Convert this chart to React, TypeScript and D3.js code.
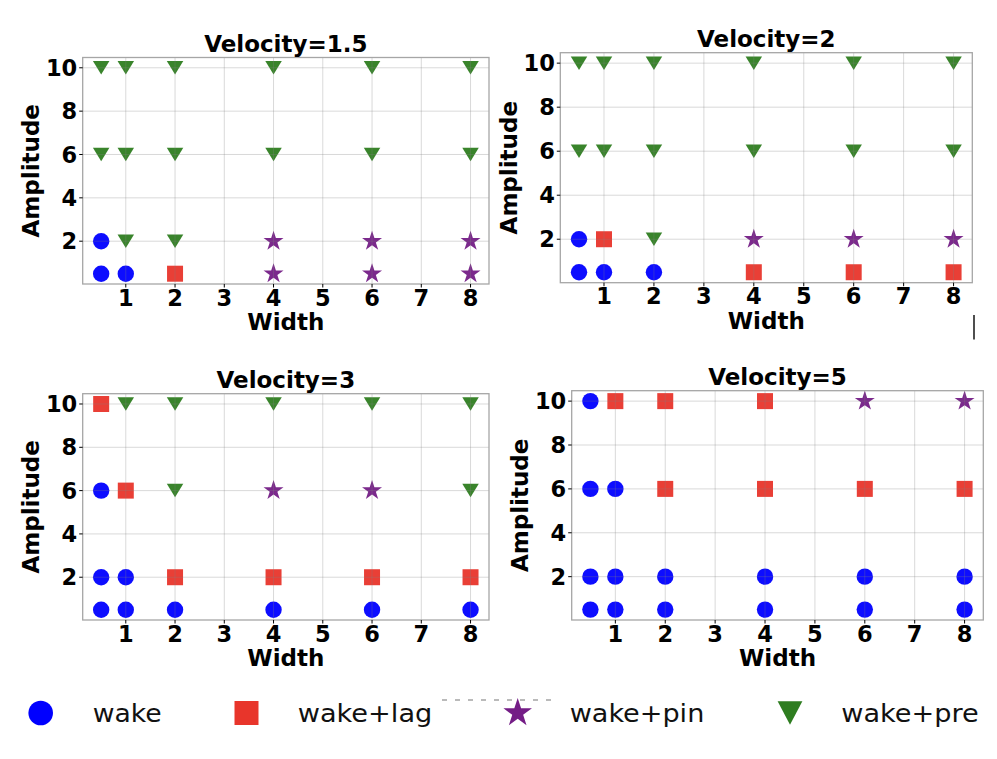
import * as d3 from "d3";

// tick labels
const widthTicks = [1, 2, 3, 4, 5, 6, 7, 8];
const ampTicks = [2, 4, 6, 8, 10];

const categories = ["wake", "wake+lag", "wake+pin", "wake+pre"];
const colors = ["#0000ff", "#e8352b", "#741d86", "#2e7d20"];
const titles = ["Velocity=1.5", "Velocity=2", "Velocity=3", "Velocity=5"];

// points are [width, amplitude]
const v15Wake = [[0.5, 2], [0.5, 0.5], [1, 0.5]];
const v15Lag = [[2, 0.5]];
const v15Pin = [[4, 2], [6, 2], [8, 2], [4, 0.5], [6, 0.5], [8, 0.5]];
const v15Pre = [
  [0.5, 10], [1, 10], [2, 10], [4, 10], [6, 10], [8, 10],
  [0.5, 6], [1, 6], [2, 6], [4, 6], [6, 6], [8, 6],
  [1, 2], [2, 2],
];

const v2Wake = [[0.5, 2], [0.5, 0.5], [1, 0.5], [2, 0.5]];
const v2Lag = [[1, 2], [4, 0.5], [6, 0.5], [8, 0.5]];
const v2Pin = [[4, 2], [6, 2], [8, 2]];
const v2Pre = [
  [0.5, 10], [1, 10], [2, 10], [4, 10], [6, 10], [8, 10],
  [0.5, 6], [1, 6], [2, 6], [4, 6], [6, 6], [8, 6],
  [2, 2],
];

const v3Wake = [
  [0.5, 6], [0.5, 2], [1, 2],
  [0.5, 0.5], [1, 0.5], [2, 0.5], [4, 0.5], [6, 0.5], [8, 0.5],
];
const v3Lag = [[0.5, 10], [1, 6], [2, 2], [4, 2], [6, 2], [8, 2]];
const v3Pin = [[4, 6], [6, 6]];
const v3Pre = [[1, 10], [2, 10], [4, 10], [6, 10], [8, 10], [2, 6], [8, 6]];

const v5Wake = [
  [0.5, 10], [0.5, 6], [1, 6],
  [0.5, 2], [1, 2], [2, 2], [4, 2], [6, 2], [8, 2],
  [0.5, 0.5], [1, 0.5], [2, 0.5], [4, 0.5], [6, 0.5], [8, 0.5],
];
const v5Lag = [[1, 10], [2, 10], [4, 10], [2, 6], [4, 6], [6, 6], [8, 6]];
const v5Pin = [[6, 10], [8, 10]];
const v5Pre: number[][] = [];

const panelSeries = [
  [v15Wake, v15Lag, v15Pin, v15Pre],
  [v2Wake, v2Lag, v2Pin, v2Pre],
  [v3Wake, v3Lag, v3Pin, v3Pre],
  [v5Wake, v5Lag, v5Pin, v5Pre],
];

// axes boxes [left, top, right, bottom]
const boxes = [
  [82.7, 57.5, 489, 284],
  [560.3, 52.7, 972.3, 282.7],
  [82.7, 393.7, 489, 620],
  [571.7, 390.7, 983.3, 620],
];

const boldFont = "'DejaVu Sans', sans-serif";

// downward triangle with a given height/width ratio
const triangleDown = (ratio: number) => ({
  draw(ctx: any, size: number) {
    const a = Math.sqrt(size) / 2;
    const b = a * ratio;
    ctx.moveTo(-a, -b);
    ctx.lineTo(a, -b);
    ctx.lineTo(0, b);
    ctx.closePath();
  },
});

function markerPath(i: number, legend: boolean) {
  const k = legend ? 1.5 : 1;
  if (i === 0) return d3.symbol(d3.symbolCircle, Math.PI * 8.2 * 8.2 * k * k)()!;
  if (i === 1) return d3.symbol(d3.symbolSquare, 16 * 16 * k * k)()!;
  if (i === 2) return d3.symbol(d3.symbolStar, (legend ? 15 * 15 : 10.5 * 10.5) / 0.8908)()!;
  return d3.symbol(triangleDown(legend ? 0.94 : 0.82), 16.5 * 16.5 * k * k)()!;
}

function Panel({ idx }: { idx: number }) {
  const [l, t, r, b] = boxes[idx];
  const x = d3.scaleLinear().domain([0.125, 8.375]).range([l, r]);
  const y = d3.scaleLinear().domain([0.025, 10.475]).range([b, t]);
  const series = panelSeries[idx];
  return (
    <g>
      <rect x={l} y={t} width={r - l} height={b - t} fill="#fff" />
      {series.map((pts, si) =>
        pts.map((p, pi) => (
          <path
            key={`${si}-${pi}`}
            d={markerPath(si, false)}
            transform={`translate(${x(p[0])},${y(p[1])})`}
            fill={colors[si]}
            opacity={0.95}
          />
        ))
      )}
      {/* grid */}
      {widthTicks.map((v) => (
        <line key={`gx${v}`} x1={x(v)} x2={x(v)} y1={t} y2={b} stroke="#808080" strokeOpacity={0.3} strokeWidth={1} />
      ))}
      {ampTicks.map((v) => (
        <line key={`gy${v}`} x1={l} x2={r} y1={y(v)} y2={y(v)} stroke="#808080" strokeOpacity={0.3} strokeWidth={1} />
      ))}
      <rect x={l} y={t} width={r - l} height={b - t} fill="none" stroke="#a6a6a6" strokeWidth={1.3} />
      {/* ticks */}
      {widthTicks.map((v) => (
        <g key={`tx${v}`}>
          <line x1={x(v)} x2={x(v)} y1={b} y2={b + 3.5} stroke="#000" strokeWidth={1} />
          <text x={x(v)} y={b + 21.5} textAnchor="middle" fontFamily={boldFont} fontWeight="bold" fontSize={22.5}>
            {v}
          </text>
        </g>
      ))}
      {ampTicks.map((v) => (
        <g key={`ty${v}`}>
          <line x1={l - 3.5} x2={l} y1={y(v)} y2={y(v)} stroke="#000" strokeWidth={1} />
          <text x={l - 5.5} y={y(v)} dy="0.36em" textAnchor="end" fontFamily={boldFont} fontWeight="bold" fontSize={22.5}>
            {v}
          </text>
        </g>
      ))}
      <text x={(l + r) / 2} y={t - 6} textAnchor="middle" fontFamily={boldFont} fontWeight="bold" fontSize={23}>
        {titles[idx]}
      </text>
      <text x={(l + r) / 2} y={b + 46} textAnchor="middle" fontFamily={boldFont} fontWeight="bold" fontSize={23}>
        Width
      </text>
      <text
        transform={`translate(${l - 52},${(t + b) / 2}) rotate(-90)`}
        dy="0.36em"
        textAnchor="middle"
        fontFamily={boldFont}
        fontWeight="bold"
        fontSize={23}
      >
        Amplitude
      </text>
    </g>
  );
}

// legend anchors
const legendMarkerX = [40.7, 246.5, 517.7, 790];
const legendTextX = [92.7, 297.7, 569.7, 841.3];
const legendTextW = [69, 134.6, 134.6, 137.4];

export default function App() {
  return (
    <svg
      width={997}
      height={759}
      viewBox="0 0 997 759"
      style={{ position: "absolute", left: 0, top: 0, background: "#fff" }}
    >
      <rect width={997} height={759} fill="#fff" />
      {[0, 1, 2, 3].map((i) => (
        <Panel key={i} idx={i} />
      ))}
      {/* stray marks */}
      <line x1={974} x2={974} y1={315} y2={339.5} stroke="#222" strokeWidth={1.6} />
      <line x1={442} x2={556} y1={700} y2={700} stroke="#777" strokeWidth={1.2} strokeDasharray="5,8" />
      {categories.map((c, i) => (
        <g key={c}>
          <path
            d={markerPath(i, true)}
            transform={`translate(${legendMarkerX[i]},${713})`}
            fill={colors[i]}
          />
          <text
            x={legendTextX[i]}
            y={721.7}
            fontFamily="'DejaVu Sans', sans-serif"
            fontSize={25.5}
            textLength={legendTextW[i]}
            lengthAdjust="spacingAndGlyphs"
            fill="#111"
          >
            {c}
          </text>
        </g>
      ))}
    </svg>
  );
}
